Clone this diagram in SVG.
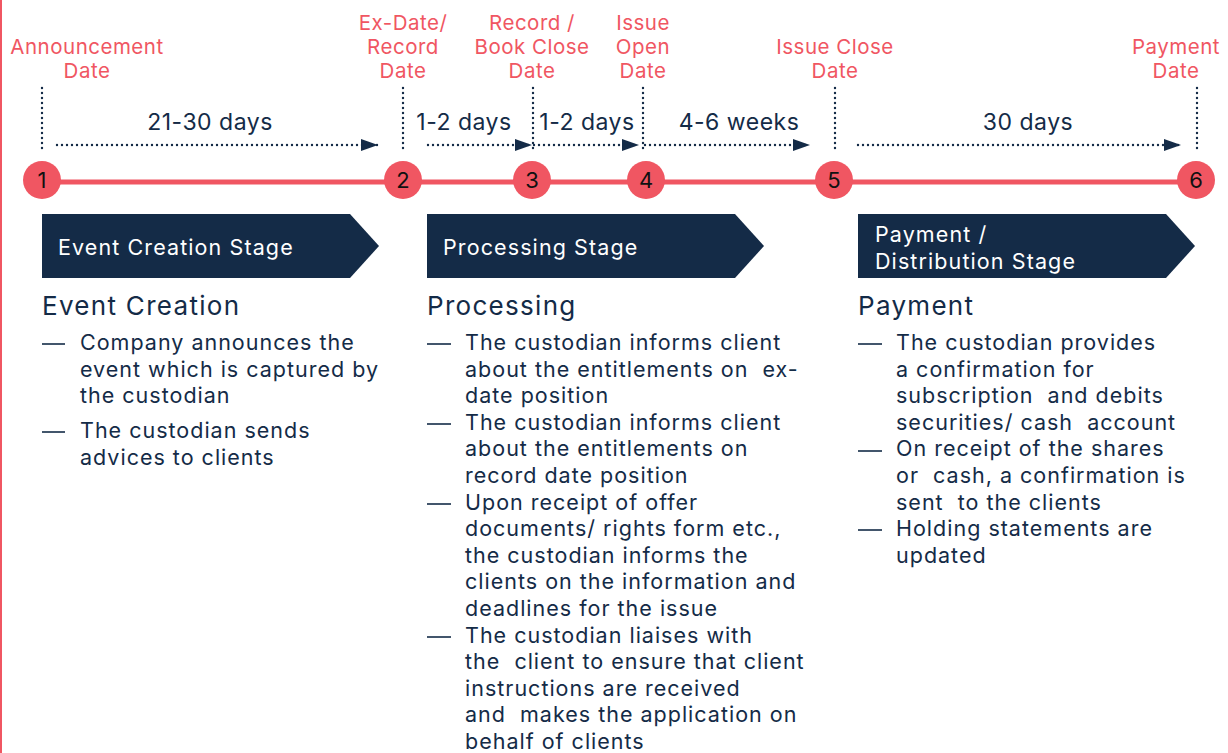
<svg xmlns="http://www.w3.org/2000/svg" width="1228" height="753" viewBox="0 0 1228 753">
<style>
.bg{fill:#ffffff}
.edge{stroke:#F05662;stroke-width:3}
.lbl{font-family:Inter,"Liberation Sans",sans-serif;font-size:20.5px;letter-spacing:0.5px;fill:#F05662;text-anchor:middle}
.num{font-family:Inter,"Liberation Sans",sans-serif;font-size:22px;fill:#111111;text-anchor:middle}
.pt{fill:#F05662}
.vdot{stroke:#142B47;stroke-width:2.4;stroke-dasharray:0 5;stroke-linecap:round;fill:none}
.hdot{stroke:#142B47;stroke-width:2.4;stroke-dasharray:0 5;stroke-linecap:round;fill:none;marker-end:url(#ah)}
.dur{font-family:Inter,"Liberation Sans",sans-serif;font-size:23px;letter-spacing:0.5px;fill:#142B47;text-anchor:middle}
.tl{stroke:#F05662;stroke-width:5;fill:none}
.chev{fill:#142B47}
.chtx{font-family:Inter,"Liberation Sans",sans-serif;font-size:21.5px;letter-spacing:1.1px;fill:#ffffff}
.hd{font-family:Inter,"Liberation Sans",sans-serif;font-size:26px;letter-spacing:1.3px;fill:#142B47}
.bt{font-family:Inter,"Liberation Sans",sans-serif;font-size:21.5px;letter-spacing:1px;fill:#142B47;white-space:pre}
.dash{stroke:#142B47;stroke-width:1.6}
</style>
<defs>
<marker id="ah" viewBox="0 0 17 12" refX="17" refY="6" markerWidth="17" markerHeight="12" markerUnits="userSpaceOnUse" orient="auto">
<path d="M0,0 L17,6 L0,12 Z" fill="#142B47"/>
</marker>
</defs>
<rect class="bg" x="0" y="0" width="1228" height="753"/>
<line class="edge" x1="0.5" y1="0" x2="0.5" y2="753"/>

<g id="connectors">
<line class="tl" x1="42" y1="182" x2="1196" y2="182"/>
<line class="hdot" x1="57" y1="145" x2="378" y2="145"/>
<line class="hdot" x1="428" y1="145" x2="532" y2="145"/>
<line class="hdot" x1="534" y1="145" x2="639" y2="145"/>
<line class="hdot" x1="645" y1="145" x2="810" y2="145"/>
<line class="hdot" x1="858" y1="145" x2="1181" y2="145"/>
<text class="dur" x="210" y="130">21-30 days</text>
<text class="dur" x="464" y="130">1-2 days</text>
<text class="dur" x="587" y="130">1-2 days</text>
<text class="dur" x="739" y="130">4-6 weeks</text>
<text class="dur" x="1028" y="130">30 days</text>
</g>

<g id="p1">
<text class="lbl" x="87" y="54">Announcement</text>
<text class="lbl" x="87" y="78">Date</text>
<line class="vdot" x1="42" y1="88" x2="42" y2="152"/>
<circle class="pt" cx="42" cy="180" r="19"/>
<text class="num" x="42" y="188">1</text>
</g>
<g id="p2">
<text class="lbl" x="403" y="30">Ex-Date/</text>
<text class="lbl" x="403" y="54">Record</text>
<text class="lbl" x="403" y="78">Date</text>
<line class="vdot" x1="403" y1="88" x2="403" y2="152"/>
<circle class="pt" cx="403" cy="180" r="19"/>
<text class="num" x="403" y="188">2</text>
</g>
<g id="p3">
<text class="lbl" x="532" y="30">Record /</text>
<text class="lbl" x="532" y="54">Book Close</text>
<text class="lbl" x="532" y="78">Date</text>
<line class="vdot" x1="533" y1="88" x2="533" y2="152"/>
<circle class="pt" cx="532" cy="180" r="19"/>
<text class="num" x="532" y="188">3</text>
</g>
<g id="p4">
<text class="lbl" x="643" y="30">Issue</text>
<text class="lbl" x="643" y="54">Open</text>
<text class="lbl" x="643" y="78">Date</text>
<line class="vdot" x1="643" y1="88" x2="643" y2="152"/>
<circle class="pt" cx="646" cy="180" r="19"/>
<text class="num" x="646" y="188">4</text>
</g>
<g id="p5">
<text class="lbl" x="835" y="54">Issue Close</text>
<text class="lbl" x="835" y="78">Date</text>
<line class="vdot" x1="835" y1="88" x2="835" y2="152"/>
<circle class="pt" cx="834" cy="180" r="19"/>
<text class="num" x="834" y="188">5</text>
</g>
<g id="p6">
<text class="lbl" x="1176" y="54">Payment</text>
<text class="lbl" x="1176" y="78">Date</text>
<line class="vdot" x1="1197" y1="88" x2="1197" y2="152"/>
<circle class="pt" cx="1196" cy="180" r="19"/>
<text class="num" x="1196" y="188">6</text>
</g>

<g id="stage1">
<path class="chev" d="M42,214 L350,214 L379,246 L350,278 L42,278 Z"/>
<text class="chtx" x="58" y="255">Event Creation Stage</text>
</g>
<g id="stage2">
<path class="chev" d="M427,214 L735,214 L764,246 L735,278 L427,278 Z"/>
<text class="chtx" x="443" y="255">Processing Stage</text>
</g>
<g id="stage3">
<path class="chev" d="M858,214 L1166,214 L1195,246 L1166,278 L858,278 Z"/>
<text class="chtx" x="875" y="242">Payment /</text>
<text class="chtx" x="875" y="269">Distribution Stage</text>
</g>

<g id="col1">
<text class="hd" x="42" y="315">Event Creation</text>
<line class="dash" x1="42" y1="344" x2="65" y2="344"/>
<text class="bt" x="80" y="350">Company announces the</text>
<text class="bt" x="80" y="376.6">event which is captured by</text>
<text class="bt" x="80" y="403.2">the custodian</text>
<line class="dash" x1="42" y1="432" x2="65" y2="432"/>
<text class="bt" x="80" y="438.3">The custodian sends</text>
<text class="bt" x="80" y="465">advices to clients</text>
</g>

<g id="col2">
<text class="hd" x="427" y="315">Processing</text>
<line class="dash" x1="427" y1="344" x2="451" y2="344"/>
<text class="bt" x="465" y="350">The custodian informs client</text>
<text class="bt" x="465" y="376.6">about the entitlements on  ex-</text>
<text class="bt" x="465" y="403.2">date position</text>
<line class="dash" x1="427" y1="424" x2="451" y2="424"/>
<text class="bt" x="465" y="429.8">The custodian informs client</text>
<text class="bt" x="465" y="456.4">about the entitlements on</text>
<text class="bt" x="465" y="483">record date position</text>
<line class="dash" x1="427" y1="504" x2="451" y2="504"/>
<text class="bt" x="465" y="509.6">Upon receipt of offer</text>
<text class="bt" x="465" y="536.2">documents/ rights form etc.,</text>
<text class="bt" x="465" y="562.8">the custodian informs the</text>
<text class="bt" x="465" y="589.4">clients on the information and</text>
<text class="bt" x="465" y="616">deadlines for the issue</text>
<line class="dash" x1="427" y1="637" x2="451" y2="637"/>
<text class="bt" x="465" y="642.6">The custodian liaises with</text>
<text class="bt" x="465" y="669.2">the  client to ensure that client</text>
<text class="bt" x="465" y="695.8">instructions are received</text>
<text class="bt" x="465" y="722.4">and  makes the application on</text>
<text class="bt" x="465" y="749">behalf of clients</text>
</g>

<g id="col3">
<text class="hd" x="858" y="315">Payment</text>
<line class="dash" x1="858" y1="344" x2="882" y2="344"/>
<text class="bt" x="896" y="350">The custodian provides</text>
<text class="bt" x="896" y="376.6">a confirmation for</text>
<text class="bt" x="896" y="403.2">subscription  and debits</text>
<text class="bt" x="896" y="429.8">securities/ cash  account</text>
<line class="dash" x1="858" y1="451" x2="882" y2="451"/>
<text class="bt" x="896" y="456.4">On receipt of the shares</text>
<text class="bt" x="896" y="483">or  cash, a confirmation is</text>
<text class="bt" x="896" y="509.6">sent  to the clients</text>
<line class="dash" x1="858" y1="530" x2="882" y2="530"/>
<text class="bt" x="896" y="536.2">Holding statements are</text>
<text class="bt" x="896" y="562.8">updated</text>
</g>
</svg>
